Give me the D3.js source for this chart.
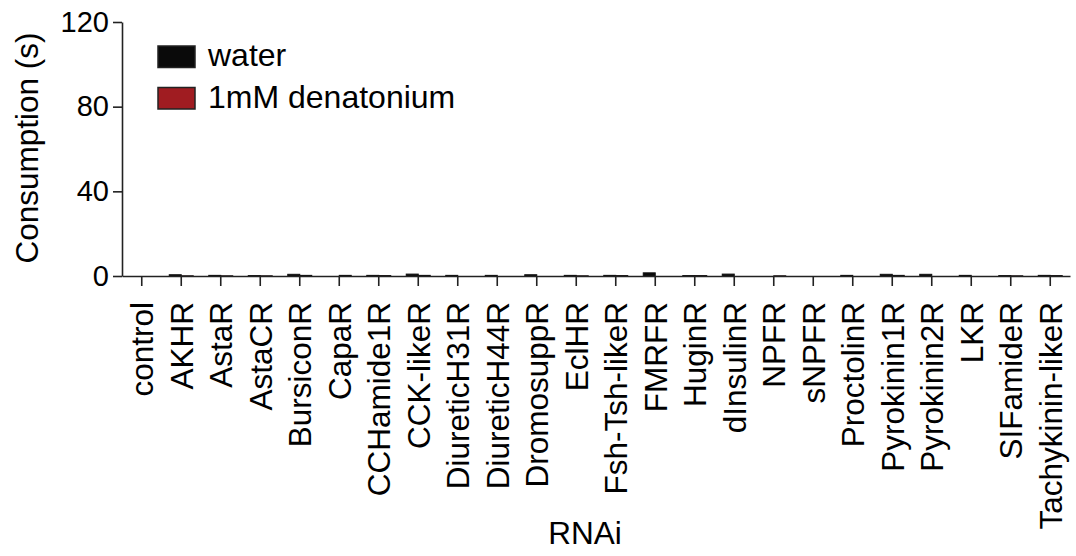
<!DOCTYPE html>
<html>
<head>
<meta charset="utf-8">
<script src="https://cdn.jsdelivr.net/npm/d3@7"></script>
<style>
  body { margin: 0; background: #fff; }
  svg { display: block; font-family: "Liberation Sans", Arial, Helvetica, sans-serif; }
</style>
</head>
<body>
<div id="chart"></div>
<script>
// RNAi lines along the x axis
const categories = ["control", "AKHR", "AstaR", "AstaCR", "BursiconR", "CapaR", "CCHamide1R",
  "CCK-likeR", "DiureticH31R", "DiureticH44R", "DromosuppR", "EclHR", "Fsh-Tsh-likeR", "FMRFR",
  "HuginR", "dInsulinR", "NPFR", "sNPFR", "ProctolinR", "Pyrokinin1R", "Pyrokinin2R", "LKR",
  "SIFamideR", "Tachykinin-likeR"];

const seriesNames = ["water", "1mM denatonium"];
const seriesColors = ["#0a0a0a", "#a01c21"];

// consumption (s)
const water = [0, 0.6, 0.3, 0.2, 0.8, 0, 0.3, 0.9, 0.3, 0.3, 0.6, 0.3, 0.3, 1.5,
  0.2, 0.9, 0, 0, 0.3, 0.8, 0.8, 0.3, 0.2, 0.3];
const denatonium = [0, 0.1, 0.1, 0.1, 0.3, 0.3, 0.2, 0.3, 0, 0, 0, 0.1, 0.2, 0,
  0.2, 0, 0.1, 0, 0, 0.3, 0, 0, 0.1, 0.2];

const yTicks = [0, 40, 80, 120];

const width = 1076, height = 556;

const svg = d3.select("#chart").append("svg")
  .attr("width", width)
  .attr("height", height);

// scales
const x = d3.scaleBand()
  .domain(categories)
  .range([122, 1070])
  .padding(0);

const y = d3.scaleLinear()
  .domain([0, 120])
  .range([276, 22]);

const xSub = d3.scaleBand()
  .domain(seriesNames)
  .range([-12, 12])
  .padding(0);

// bars
const rows = categories.map((c, i) => ({ cat: c, vals: [water[i], denatonium[i]] }));

const groups = svg.selectAll("g.grp")
  .data(rows)
  .enter().append("g")
  .attr("class", "grp")
  .attr("transform", d => "translate(" + (x(d.cat) + x.bandwidth() / 2) + ",0)");

groups.selectAll("rect")
  .data(d => d.vals.map((v, j) => ({ name: seriesNames[j], v: v, j: j })))
  .enter().append("rect")
  .filter(d => d.v > 0)
  .attr("x", d => xSub(d.name))
  .attr("width", xSub.bandwidth())
  .attr("y", d => y(d.v))
  .attr("height", d => y(0) - y(d.v))
  .attr("fill", d => seriesColors[d.j])
  .attr("stroke", "#111")
  .attr("stroke-width", 1);

// y axis
const yAxis = svg.append("g")
  .attr("transform", "translate(122,0)")
  .call(d3.axisLeft(y).tickValues(yTicks).tickSize(9).tickPadding(4).tickSizeOuter(0));

yAxis.selectAll("text")
  .attr("font-size", "29px")
  .attr("fill", "#000")
  .attr("font-family", "Liberation Sans, Arial, sans-serif");

// x axis
const xAxis = svg.append("g")
  .attr("transform", "translate(0,276)")
  .call(d3.axisBottom(x).tickSize(10).tickSizeOuter(0));

xAxis.selectAll("text")
  .attr("font-size", "31.5px")
  .attr("fill", "#000")
  .attr("font-family", "Liberation Sans, Arial, sans-serif")
  .attr("text-anchor", "end")
  .attr("transform", "rotate(-90)")
  .attr("x", -26)
  .attr("y", 0)
  .attr("dy", "0.36em");

svg.selectAll(".domain, .tick line")
  .attr("stroke", "#222")
  .attr("stroke-width", 1.6);

// axis titles
svg.append("text")
  .attr("transform", "translate(38,148) rotate(-90)")
  .attr("text-anchor", "middle")
  .attr("font-size", "31.5px")
  .attr("fill", "#000")
  .text("Consumption (s)");

svg.append("text")
  .attr("x", 585)
  .attr("y", 544)
  .attr("text-anchor", "middle")
  .attr("font-size", "31.5px")
  .attr("fill", "#000")
  .text("RNAi");

// legend
const legend = svg.selectAll("g.leg")
  .data(seriesNames)
  .enter().append("g")
  .attr("class", "leg")
  .attr("transform", (d, i) => "translate(158," + (46 + i * 41.5) + ")");

legend.append("rect")
  .attr("width", 37)
  .attr("height", 21.5)
  .attr("fill", (d, i) => seriesColors[i])
  .attr("stroke", "#222")
  .attr("stroke-width", 1.5);

legend.append("text")
  .attr("x", 50)
  .attr("y", 20)
  .attr("font-size", "32px")
  .attr("fill", "#000")
  .text(d => d);
</script>
</body>
</html>
